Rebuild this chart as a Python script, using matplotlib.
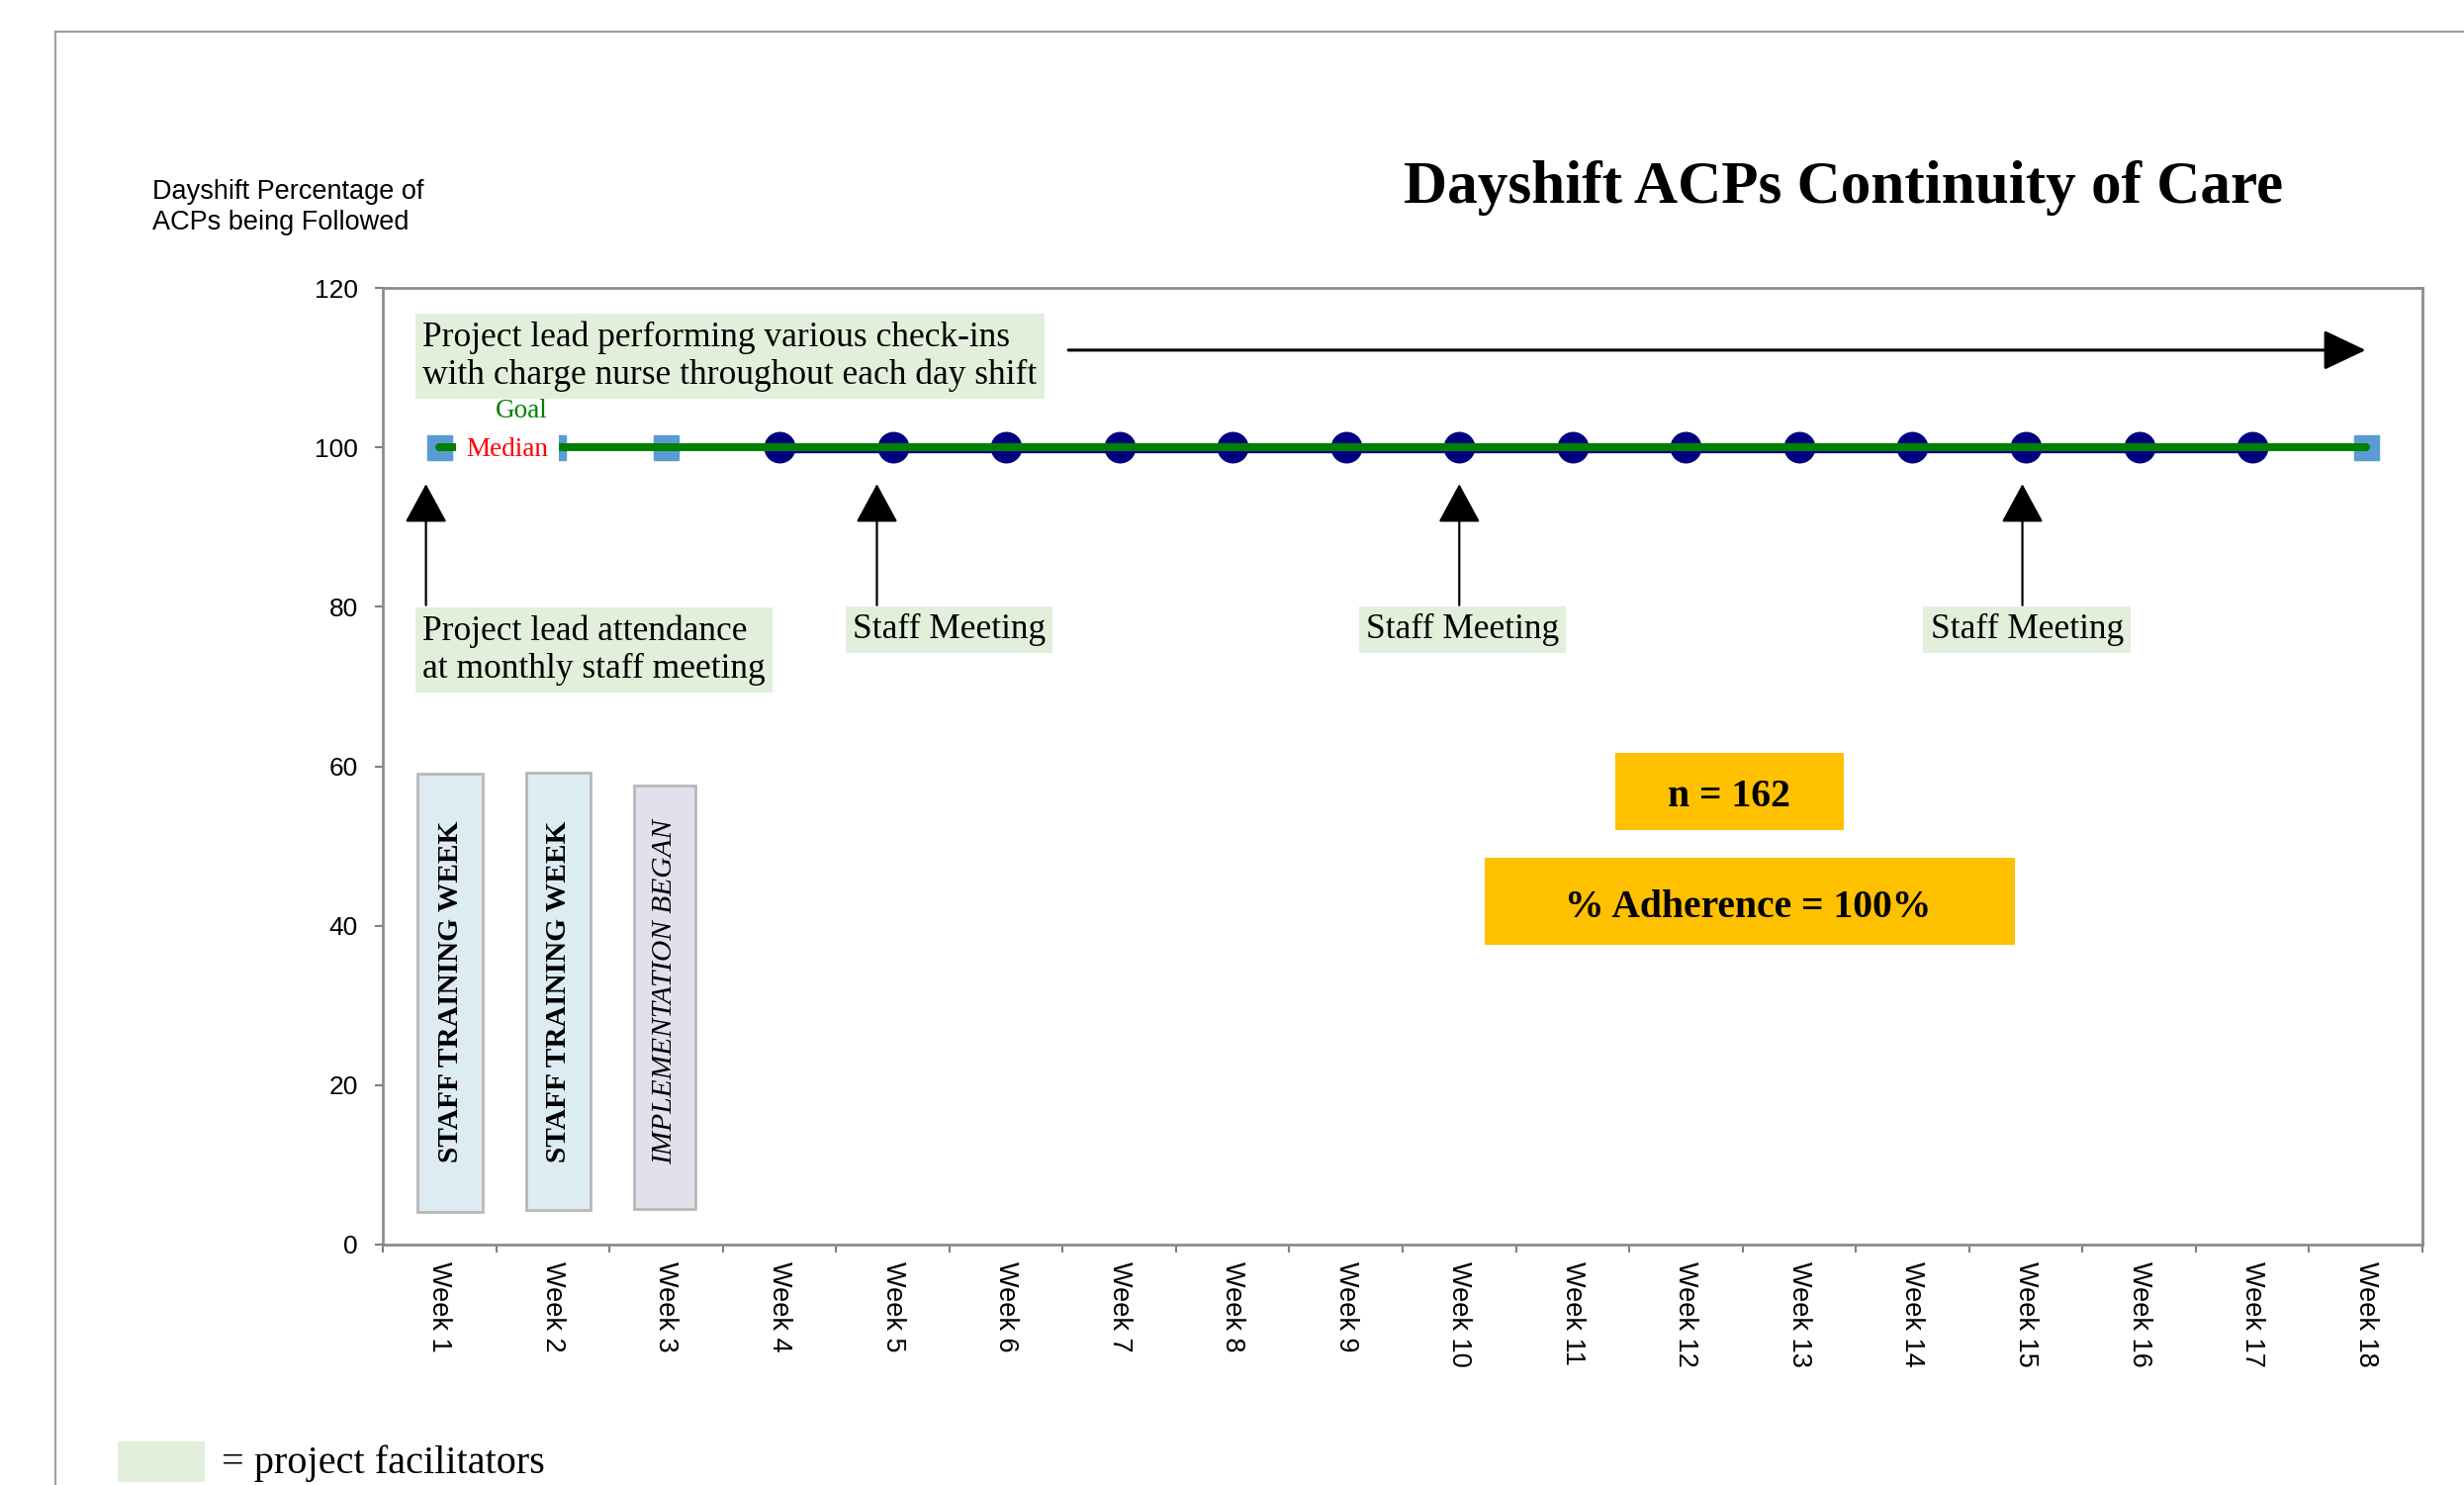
import matplotlib.pyplot as plt
from matplotlib.patches import Rectangle
from matplotlib.lines import Line2D
import matplotlib.transforms as mtransforms

# data
weeks = ["Week 1", "Week 2", "Week 3", "Week 4", "Week 5", "Week 6", "Week 7", "Week 8", "Week 9",
         "Week 10", "Week 11", "Week 12", "Week 13", "Week 14", "Week 15", "Week 16", "Week 17", "Week 18"]
pre_weeks = [1, 2, 3]
pre_pct = [100, 100, 100]
followed_weeks = [4, 5, 6, 7, 8, 9, 10, 11, 12, 13, 14, 15, 16, 17]
followed_pct = [100, 100, 100, 100, 100, 100, 100, 100, 100, 100, 100, 100, 100, 100]
last_weeks = [18]
last_pct = [100]
goal_pct = 100
median_pct = 100
meeting_weeks = [0.88, 4.86, 10, 14.97]
meeting_label_x = [5.5, 10.03, 15.01]
n_total = 162
adherence = 100

serif = "Liberation Serif"
sans = "Liberation Sans"
green_box = "#E2EFDA"

fig = plt.figure(figsize=(24.91, 15.01), dpi=100)
ax = fig.add_axes([0.1554, 0.1619, 0.8277, 0.6442])

# page frame
fig.add_artist(Line2D([56 / 2491, 1], [1 - 32 / 1501, 1 - 32 / 1501], color="#a0a0a0", lw=1.6))
fig.add_artist(Line2D([56 / 2491, 56 / 2491], [0, 1 - 32 / 1501], color="#a0a0a0", lw=1.6))

# lines
x_all = [pre_weeks[0], last_weeks[-1]]
down = mtransforms.offset_copy(ax.transData, fig=fig, x=0, y=-2, units="dots")
ax.plot(followed_weeks, followed_pct, color="#000080", lw=6, transform=down, zorder=3)
ax.plot(x_all, [median_pct, median_pct], color="red", lw=3, zorder=2)
ax.plot(followed_weeks, followed_pct, "o", color="#000080", markersize=22, zorder=4)
ax.plot(pre_weeks, pre_pct, "s", color="#5B9BD5", markersize=18, zorder=4)
ax.plot(last_weeks, last_pct, "s", color="#5B9BD5", markersize=18, zorder=4)
ax.plot(x_all, [goal_pct, goal_pct], color="#008000", lw=5.8, solid_capstyle="round", zorder=5)

ax.text(1.6, 99.7, "Median", color="red", fontsize=19.5, family=serif, ha="center", va="center",
        bbox=dict(boxstyle="square,pad=0.4", fc="white", ec="none"), zorder=6)
ax.text(1.72, 104.5, "Goal", color="#008000", fontsize=19.5, family=serif, ha="center", va="center", zorder=6)

# axes styling
ax.set_xlim(0.5, 18.5)
ax.set_ylim(0, 120)
ax.set_yticks(range(0, 121, 20))
ax.set_xticks(range(1, 19))
ax.set_xticklabels(weeks, rotation=-90, fontsize=19.5, family=sans)
ax.set_xticks([i + 0.5 for i in range(0, 19)], minor=True)
ax.tick_params(axis="x", which="major", length=0, pad=12)
ax.tick_params(axis="x", which="minor", length=6, width=1.5, color="#7f7f7f", direction="out")
ax.tick_params(axis="y", length=6, width=1.5, color="#7f7f7f", pad=12, labelsize=19)
for lab in ax.get_yticklabels():
    lab.set_family(sans)
for lab in ax.get_xticklabels():
    lab.set_va("top")
for s in ax.spines.values():
    s.set_color("#8c8c8c")
    s.set_linewidth(2)

# annotations
ax.text(0.85, 111.4, "Project lead performing various check-ins\nwith charge nurse throughout each day shift",
        fontsize=25.5, family=serif, ha="left", va="center", linespacing=1.2,
        bbox=dict(boxstyle="square,pad=0.2", fc=green_box, ec="none"), zorder=6)
ax.annotate("", xy=(18.0, 112.2), xytext=(6.55, 112.2),
            arrowprops=dict(arrowstyle="-|>,head_length=1.33,head_width=0.63", mutation_scale=20,
                            lw=2.2, color="black", shrinkA=0, shrinkB=0))

for mx in meeting_weeks:
    ax.annotate("", xy=(mx, 95.4), xytext=(mx, 80.2),
                arrowprops=dict(arrowstyle="-|>,head_length=1.25,head_width=0.68", mutation_scale=20,
                                lw=1.6, color="black", shrinkA=0, shrinkB=0))

ax.text(0.85, 74.6, "Project lead attendance\nat monthly staff meeting", fontsize=25.5, family=serif,
        ha="left", va="center", linespacing=1.2,
        bbox=dict(boxstyle="square,pad=0.2", fc=green_box, ec="none"), zorder=6)
for lx in meeting_label_x:
    ax.text(lx, 77.1, "Staff Meeting", fontsize=25.5, family=serif, ha="center", va="center",
            bbox=dict(boxstyle="square,pad=0.2", fc=green_box, ec="none"), zorder=6)

# training / implementation bars
bars = [(0.806, 1.38, 4.1, 59.07, "#DDEBF3", "STAFF TRAINING WEEK", "normal", "bold"),
        (1.766, 2.333, 4.3, 59.2, "#DDEBF3", "STAFF TRAINING WEEK", "normal", "bold"),
        (2.717, 3.258, 4.5, 57.6, "#E4DFEC", "IMPLEMENTATION BEGAN", "italic", "normal")]
for x0, x1, y0, y1, fc, label, style, weight in bars:
    ax.add_patch(Rectangle((x0, y0), x1 - x0, y1 - y0, fc=fc, ec="#b8b8b8", lw=2, zorder=2))
    ax.text((x0 + x1) / 2, 31.7, label, rotation=90, fontsize=21.2, family=serif, style=style,
            weight=weight, ha="center", va="center", zorder=3)

# summary boxes
ax.add_patch(Rectangle((11.377, 52.0), 13.393 - 11.377, 61.68 - 52.0, fc="#FFC000", ec="none", zorder=2))
ax.text(12.38, 56.1, "n = %d" % n_total, fontsize=28.5, family=serif, weight="bold",
        ha="center", va="center", zorder=3)
ax.add_patch(Rectangle((10.224, 37.6), 14.903 - 10.224, 48.52 - 37.6, fc="#FFC000", ec="none", zorder=2))
ax.text(12.55, 42.3, "%% Adherence = %d%%" % adherence, fontsize=28.5, family=serif,
        weight="bold", ha="center", va="center", zorder=3)

# titles
fig.text(0.7483, 0.8734, "Dayshift ACPs Continuity of Care", fontsize=44, family=serif, weight="bold",
         ha="center", va="center")
fig.text(154 / 2491, 0.8605, "Dayshift Percentage of\nACPs being Followed", fontsize=19.5, family=sans,
         ha="left", va="center", linespacing=1.25)

# facilitator key
fig.add_artist(Rectangle((119 / 2491, 0.002), 88 / 2491, 0.0273, fc=green_box, ec="none",
                         transform=fig.transFigure))
fig.text(224 / 2491, 1 - 1479 / 1501, "= project facilitators", fontsize=29, family=serif,
         ha="left", va="center")

fig.savefig("out.png", dpi=100)
